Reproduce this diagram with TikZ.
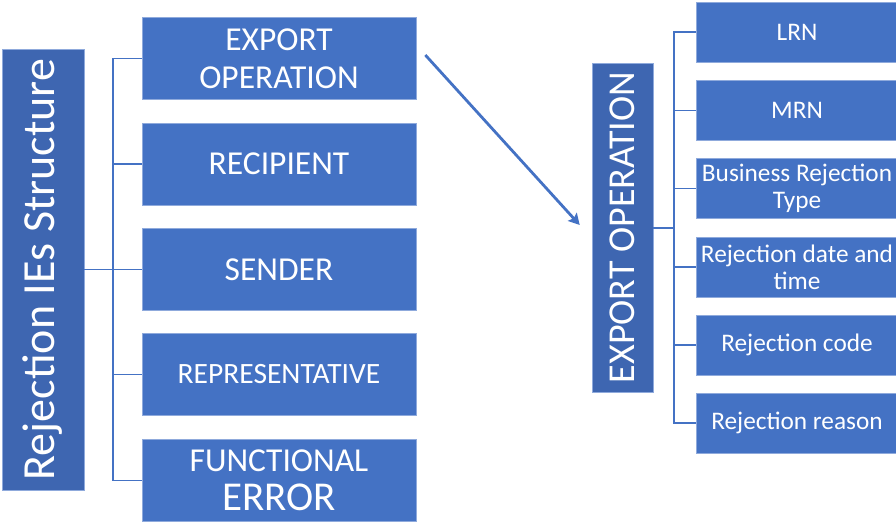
\documentclass[tikz,border=0pt]{standalone}
\usepackage{fontspec}
\setmainfont{Carlito}
\usetikzlibrary{arrows.meta}
\definecolor{child}{HTML}{4472C4}
\definecolor{rootc}{HTML}{3E66B1}
\definecolor{edge}{HTML}{8FAADC}
\begin{document}
\begin{tikzpicture}[x=1pt,y=-1pt,
  rootbox/.style={fill=rootc,draw=edge,line width=0.6pt,text=white,inner sep=0pt},
  childbox/.style={fill=child,draw=edge,line width=0.6pt,text=white,align=center,inner sep=0pt},
  conn/.style={draw=child,line width=1.6pt},
  fs/.style={font=\fontsize{#1}{#1}\selectfont}]
\useasboundingbox (0,0) rectangle (896,522);
% left root
\node[rootbox,minimum width=82pt,minimum height=441pt] (L0) at (43,269.5) {};
\node[rotate=90,text=white,fs=46] (L0t) at (L0.center) {Rejection IEs Structure};
% left children
\node[childbox,minimum width=274pt,minimum height=82pt,fs=33.5] (L1) at (279,58.5) {EXPORT\\[4.5pt]OPERATION};
\node[childbox,minimum width=274pt,minimum height=82pt,fs=33.5] (L2) at (279,164) {RECIPIENT};
\node[childbox,minimum width=274pt,minimum height=82pt,fs=33.5] (L3) at (279,269.5) {SENDER};
\node[childbox,minimum width=274pt,minimum height=82pt,fs=29.5] (L4) at (279,374.5) {REPRESENTATIVE};
\node[childbox,minimum width=274pt,minimum height=82pt,fs=33.5] (L5) at (279,480.5) {FUNCTIONAL\\[5.5pt]{\fontsize{41}{41}\selectfont ERROR}};
\coordinate (LT) at (113,269.5);
\draw[conn] (L0.east) -- (L3.west);
\draw[conn] (L1.west) -| (LT) |- (L5.west);
\draw[conn] (L2.west) -- (L2.west -| LT);
\draw[conn] (L4.west) -- (L4.west -| LT);
% right root
\node[rootbox,minimum width=61pt,minimum height=329pt] (R0) at (622.5,227.5) {};
\node[rotate=90,text=white,fs=38] (R0t) at (R0.center) {EXPORT OPERATION};
% right children
\node[childbox,minimum width=202pt,minimum height=60pt,fs=25.3] (R1) at (797,32) {LRN};
\node[childbox,minimum width=202pt,minimum height=60pt,fs=25.3] (R2) at (797,110.5) {MRN};
\node[childbox,minimum width=202pt,minimum height=60pt,fs=25.3] (R3) at (797,188.5) {Business Rejection\\[2pt]Type};
\node[childbox,minimum width=202pt,minimum height=60pt,fs=25.3] (R4) at (797,267) {Rejection date and\\[2pt]time};
\node[childbox,minimum width=202pt,minimum height=60pt,fs=25.3] (R5) at (797,345) {Rejection code};
\node[childbox,minimum width=202pt,minimum height=60pt,fs=25.3] (R6) at (797,423) {Rejection reason};
\coordinate (RT) at (674,228);
\draw[conn] (R0.east |- RT) -- (RT);
\draw[conn] (R1.west) -| (RT) |- (R6.west);
\foreach \n in {R2,R3,R4,R5} \draw[conn] (\n.west) -- (\n.west -| RT);
% arrow
\draw[draw=child,line width=2.8pt,-{Stealth[length=11pt,width=12pt,inset=2pt]}] ([xshift=9pt,yshift=3.5pt]L1.east) -- ([xshift=-12pt,yshift=2.5pt]R0.west);
\end{tikzpicture}
\end{document}
